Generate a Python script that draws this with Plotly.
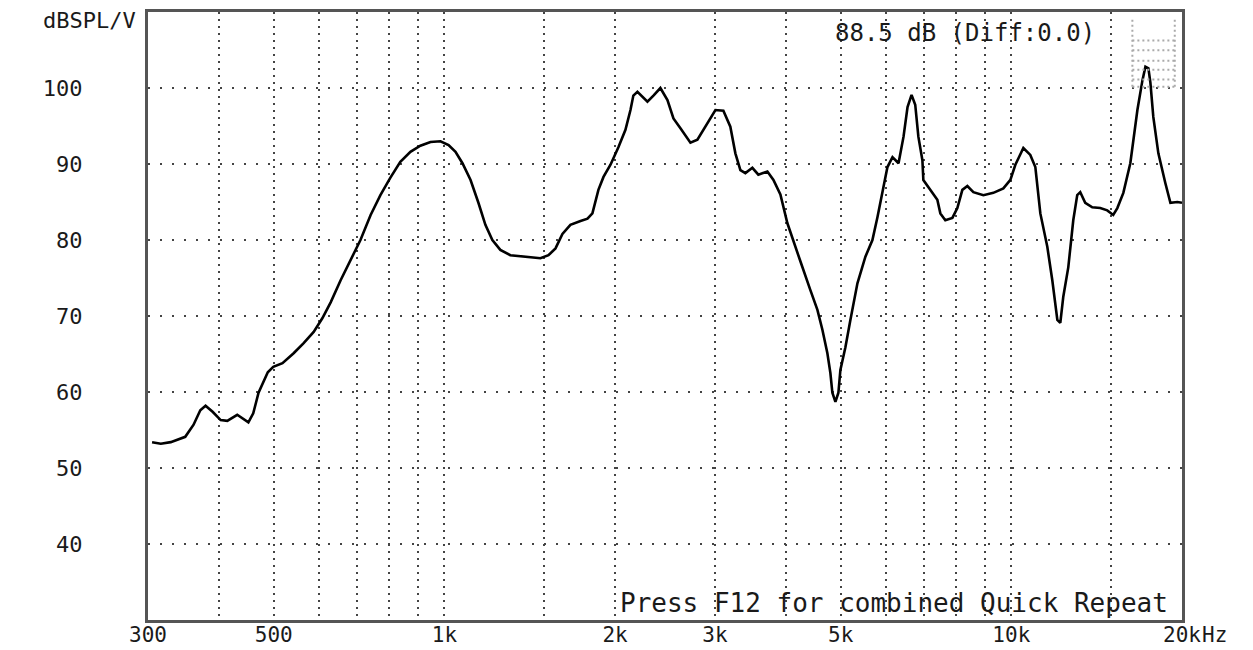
import plotly.graph_objects as go

# Frequency response data
freq_hz = [305, 316, 329, 342, 349, 361, 371, 379, 390, 403, 414, 431, 451, 460, 470, 488, 499, 518, 542, 564,
           588, 609, 630, 656, 683, 711, 741, 771, 803, 836, 871, 907, 945, 984, 1017, 1046, 1076, 1112, 1148,
           1181, 1215, 1255, 1307, 1390, 1477, 1526, 1570, 1615, 1668, 1738, 1788, 1824, 1869, 1908, 1963, 2027,
           2086, 2129, 2154, 2190, 2281, 2337, 2404, 2474, 2535, 2608, 2716, 2794, 2910, 3006, 3105, 3194, 3260,
           3327, 3395, 3493, 3579, 3713, 3805, 3914, 4027, 4126, 4245, 4421, 4549, 4642, 4737, 4795, 4834, 4894,
           4954, 4994, 5097, 5202, 5352, 5528, 5688, 5805, 5924, 6046, 6171, 6324, 6454, 6560, 6668, 6768, 6855,
           6968, 6995, 7197, 7404, 7495, 7648, 7870, 8031, 8196, 8364, 8571, 8926, 9296, 9681, 9961, 10164,
           10500, 10801, 11024, 11250, 11573, 11810, 12054, 12200, 12347, 12602, 12860, 13069, 13230, 13500,
           13891, 14350, 14762, 15126, 15380, 15760, 16213, 16686, 17030, 17240, 17450, 17590, 17800, 18170,
           18690, 19080, 19630, 20000]
spl_db = [53.4, 53.2, 53.4, 53.8, 54.1, 55.7, 57.6, 58.2, 57.4, 56.3, 56.2, 57.0, 56.0, 57.2, 59.9, 62.6, 63.3,
          63.8, 65.1, 66.4, 67.9, 69.7, 71.8, 74.7, 77.4, 80.0, 83.3, 85.9, 88.2, 90.3, 91.6, 92.4, 92.9, 93.0,
          92.5, 91.6, 90.1, 87.9, 84.9, 82.0, 80.0, 78.7, 78.0, 77.8, 77.6, 78.0, 78.9, 80.8, 82.0, 82.5, 82.8,
          83.5, 86.6, 88.3, 89.9, 92.2, 94.5, 97.1, 99.0, 99.5, 98.2, 99.0, 100.0, 98.4, 96.0, 94.7, 92.8, 93.2,
          95.4, 97.1, 97.0, 94.9, 91.4, 89.2, 88.8, 89.5, 88.6, 89.0, 87.9, 86.0, 82.2, 80.0, 77.2, 73.4, 70.8,
          68.2, 65.1, 62.5, 59.9, 58.7, 59.9, 62.9, 65.9, 69.5, 74.3, 77.8, 80.0, 83.0, 86.2, 89.6, 90.9, 90.1,
          93.6, 97.5, 99.1, 97.8, 93.6, 90.5, 87.9, 86.6, 85.3, 83.5, 82.6, 82.9, 84.2, 86.6, 87.1, 86.3, 85.9,
          86.2, 86.8, 87.9, 89.9, 92.1, 91.2, 89.6, 83.5, 79.1, 74.7, 69.5, 69.1, 72.5, 76.4, 82.6, 85.9, 86.3,
          84.9, 84.3, 84.2, 83.9, 83.3, 84.2, 86.2, 90.1, 97.1, 101.0, 102.8, 102.6, 100.7, 96.2, 91.4, 87.5,
          84.9, 85.0, 84.9]

# Axis ticks
x_tick_vals = [300, 500, 1000, 2000, 3000, 5000, 10000, 20000]
x_tick_text = ["300", "500", "1k", "2k", "3k", "5k", "10k", "20k"]
x_minor_vals = [400, 600, 700, 800, 900, 1500, 4000, 6000, 7000, 8000, 9000, 15000]
y_tick_vals = [40, 50, 60, 70, 80, 90, 100]
y_tick_text = ["40", "50", "60", "70", "80", "90", "100"]

FONT = "DejaVu Sans Mono"
TXT = "#1a1a1a"

fig = go.Figure()
fig.add_trace(go.Scatter(x=freq_hz, y=spl_db, mode="lines",
                         line=dict(color="black", width=2.6), hoverinfo="x+y"))

fig.update_layout(
    width=1245, height=642,
    margin=dict(l=140, r=71, t=4, b=30),
    paper_bgcolor="white", plot_bgcolor="white",
    showlegend=False,
    font=dict(family=FONT, size=22, color=TXT),
)
fig.update_xaxes(
    type="log", range=[2.4771213, 4.30103], automargin=False,
    tickvals=x_tick_vals, ticktext=x_tick_text,
    showgrid=True, gridcolor="#444", gridwidth=2, griddash="2px,5px",
    minor=dict(tickvals=x_minor_vals, showgrid=True, gridcolor="#444", gridwidth=2, griddash="2px,5px", ticks=""),
    ticks="", showline=True, linecolor="#555", linewidth=3, mirror=True,
    ticklabelstandoff=-6,
    tickfont=dict(family=FONT, size=21, color=TXT), zeroline=False,
)
fig.update_yaxes(
    range=[30, 110], automargin=False,
    tickvals=y_tick_vals, ticktext=y_tick_text,
    showgrid=True, gridcolor="#444", gridwidth=2, griddash="2px,10px",
    ticks="", showline=True, linecolor="#555", linewidth=3, mirror=True,
    ticklabelstandoff=58,
    tickfont=dict(family=FONT, size=22, color=TXT), zeroline=False,
)

fig.add_annotation(text="dBSPL/V", xref="paper", yref="paper", x=0, y=1,
                   xanchor="right", yanchor="middle", xshift=-10, yshift=-8,
                   showarrow=False, font=dict(family=FONT, size=22, color=TXT))
fig.add_annotation(text="Hz", xref="paper", yref="paper", x=1, y=0,
                   xanchor="left", yanchor="middle", xshift=18, yshift=-15,
                   showarrow=False, font=dict(family=FONT, size=21, color=TXT))
fig.add_annotation(text="88.5 dB (Diff:0.0)", xref="paper", yref="paper", x=0.79, y=0.9655,
                   xanchor="center", yanchor="middle",
                   showarrow=False, font=dict(family=FONT, size=24, color=TXT))
fig.add_annotation(text="Press F12 for combined Quick Repeat", xref="paper", yref="paper", x=0.988, y=0.0,
                   xanchor="right", yanchor="bottom", yshift=0,
                   showarrow=False, font=dict(family=FONT, size=26, color=TXT))

# small dotted indicator box at the top right
box_x0, box_x1 = 0.952, 0.993
for yy in [0.953, 0.937, 0.920, 0.905, 0.889, 0.877]:
    fig.add_shape(type="line", xref="paper", yref="paper", x0=box_x0, x1=box_x1, y0=yy, y1=yy,
                  line=dict(color="#aaa", width=2, dash="2px,3px"))
for xx in [box_x0, box_x1]:
    fig.add_shape(type="line", xref="paper", yref="paper", x0=xx, x1=xx, y0=0.877, y1=0.99,
                  line=dict(color="#aaa", width=2, dash="2px,3px"))

fig.write_html("out.html")
